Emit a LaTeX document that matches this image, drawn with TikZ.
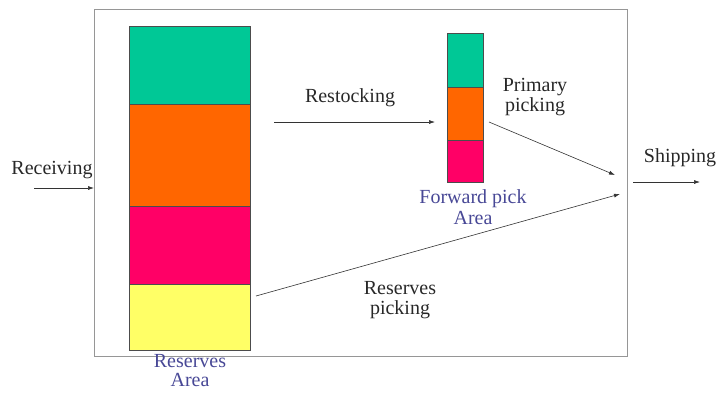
\documentclass[tikz,border=0pt]{standalone}
\usepackage{fontspec}
\setmainfont{Liberation Serif}
\usetikzlibrary{arrows.meta}
\definecolor{cgreen}{RGB}{0,200,150}
\definecolor{corange}{RGB}{255,102,0}
\definecolor{cmagenta}{RGB}{255,0,102}
\definecolor{cyellow}{RGB}{255,255,102}
\definecolor{cblue}{RGB}{72,72,150}
\definecolor{cframe}{RGB}{150,150,150}
\definecolor{ctext}{RGB}{40,40,40}
\tikzset{
  cell/.style={draw=black!70, line width=0.6pt, anchor=north west, inner sep=0pt, outer sep=0pt},
  lbl/.style={align=center, inner sep=0pt, text=ctext, font=\fontsize{20}{20.5}\selectfont},
  area/.style={align=center, inner sep=0pt, text=cblue, font=\fontsize{20}{20.5}\selectfont},
  flow/.style={draw=black!80, line width=0.6pt, -{Latex[length=6pt,width=4pt]}},
}
\begin{document}
\begin{tikzpicture}[x=1pt,y=-1pt]
\useasboundingbox (0,0) rectangle (717,392);
\node[draw=cframe, line width=0.9pt, anchor=north west, minimum width=533pt, minimum height=347pt, inner sep=0pt] (frame) at (94,9) {};
% reserves column
\node[cell, fill=cgreen,   minimum width=121pt, minimum height=78pt]  (r1) at (129,26) {};
\node[cell, fill=corange,  minimum width=121pt, minimum height=102pt] (r2) at (129,104) {};
\node[cell, fill=cmagenta, minimum width=121pt, minimum height=78pt]  (r3) at (129,206) {};
\node[cell, fill=cyellow,  minimum width=121pt, minimum height=66pt]  (r4) at (129,284) {};
% forward pick column
\node[cell, fill=cgreen,   minimum width=36pt, minimum height=54pt] (f1) at (447,33) {};
\node[cell, fill=corange,  minimum width=36pt, minimum height=53pt] (f2) at (447,87) {};
\node[cell, fill=cmagenta, minimum width=36pt, minimum height=42pt] (f3) at (447,140) {};
% labels
\node[lbl] (receiving) at (52,170) {Receiving};
\node[lbl] (shipping) at (680,158) {Shipping};
\node[lbl] (restocking) at (350,98) {Restocking};
\node[lbl] (primary) at (535,97) {Primary\\picking};
\node[lbl] (reserves) at (400,300) {Reserves\\picking};
\node[area] (fwdarea) at (473,207) {Forward pick\\Area};
\node[area, font=\fontsize{20}{19}\selectfont] (resarea) at (190,371) {Reserves\\Area};
% coordinates
\coordinate (recS) at (34,188);
\coordinate (shipS) at (633,182);
\coordinate (shipE) at (700,182);
\coordinate (restS) at (274,122);
\coordinate (restE) at (435,122);
\coordinate (primS) at (489,122);
\coordinate (primE) at (615,175);
\coordinate (resS) at (256,296);
\coordinate (resE) at (620,194);
% arrows
\draw[flow] (recS) -- (recS -| frame.west);
\draw[flow] (shipS) -- (shipE);
\draw[flow] (restS) -- (restE);
\draw[flow] (primS) -- (primE);
\draw[flow] (resS) -- (resE);
\end{tikzpicture}
\end{document}
